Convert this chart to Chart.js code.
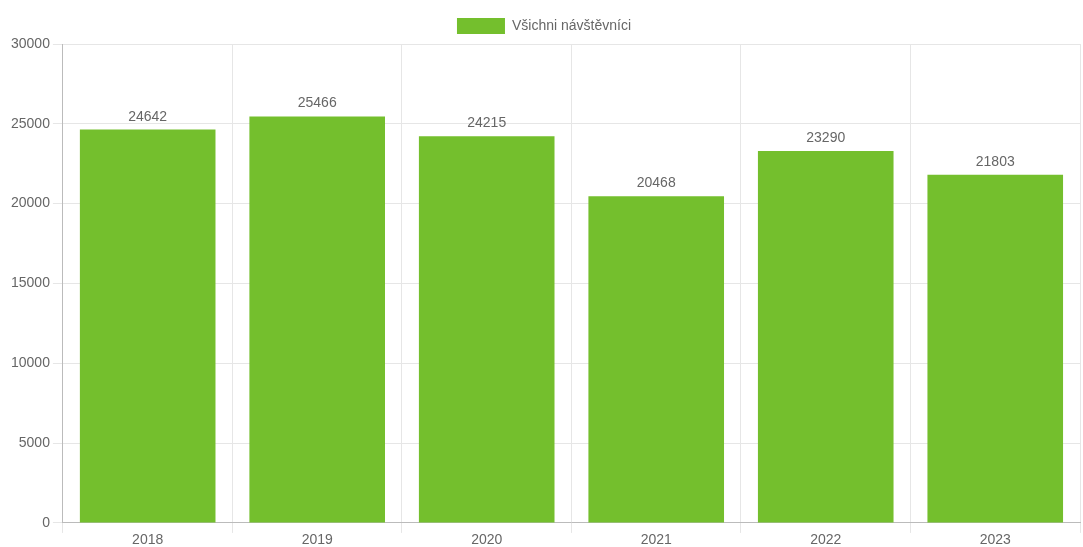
<!DOCTYPE html>
<html>
<head>
<meta charset="utf-8">
<script src="https://cdn.jsdelivr.net/npm/chart.js@4/dist/chart.umd.min.js"></script>
<style>
html,body{margin:0;padding:0;background:#fff;}
#wrap{width:1083px;height:547px;position:relative;}
</style>
</head>
<body>
<div id="wrap"><canvas id="c" width="1083" height="547"></canvas></div>
<script>
const categories = ["2018","2019","2020","2021","2022","2023"];
const seriesName = "Všichni návštěvníci";
const visitors = [24642, 25466, 24215, 20468, 23290, 21803];
const yTicks = [0, 5000, 10000, 15000, 20000, 25000, 30000];

const barColor = "#74bf2d";

const valueLabels = {
  id: "valueLabels",
  afterDatasetsDraw(chart) {
    const ctx = chart.ctx;
    ctx.save();
    ctx.font = "14px 'Liberation Sans', Arial, sans-serif";
    ctx.fillStyle = "#666";
    ctx.textAlign = "center";
    ctx.textBaseline = "alphabetic";
    chart.data.datasets.forEach((ds, i) => {
      chart.getDatasetMeta(i).data.forEach((bar, j) => {
        ctx.fillText(String(ds.data[j]), bar.x, bar.y - 9);
      });
    });
    ctx.restore();
  }
};

Chart.defaults.font.family = "'Liberation Sans', Arial, sans-serif";
Chart.defaults.font.size = 14;
Chart.defaults.color = "#666";

new Chart(document.getElementById("c"), {
  type: "bar",
  data: {
    labels: categories,
    datasets: [{
      label: seriesName,
      data: visitors,
      backgroundColor: barColor,
      borderColor: barColor,
      borderWidth: 0,
      barPercentage: 1.0,
      categoryPercentage: 0.8
    }]
  },
  options: {
    responsive: false,
    animation: false,
    layout: { padding: { left: 8, right: 3, top: 8, bottom: 0 } },
    plugins: {
      legend: {
        display: true,
        labels: { boxWidth: 48, boxHeight: 16, color: "#666", font: { size: 14 } }
      },
      tooltip: { enabled: false }
    },
    scales: {
      x: {
        grid: { color: "#e6e6e6", tickLength: 10 },
        border: { color: "#bbb" },
        ticks: { color: "#666", padding: 2, font: { size: 14, lineHeight: 0.72 } }
      },
      y: {
        min: 0,
        max: 30000,
        afterBuildTicks(axis) { axis.ticks = yTicks.map(v => ({ value: v })); },
        grid: { color: "#e6e6e6", tickLength: 10 },
        border: { color: "#bbb" },
        ticks: { color: "#666", padding: 3, font: { size: 14 }, callback: v => String(v) }
      }
    }
  },
  plugins: [valueLabels]
});
</script>
</body>
</html>
